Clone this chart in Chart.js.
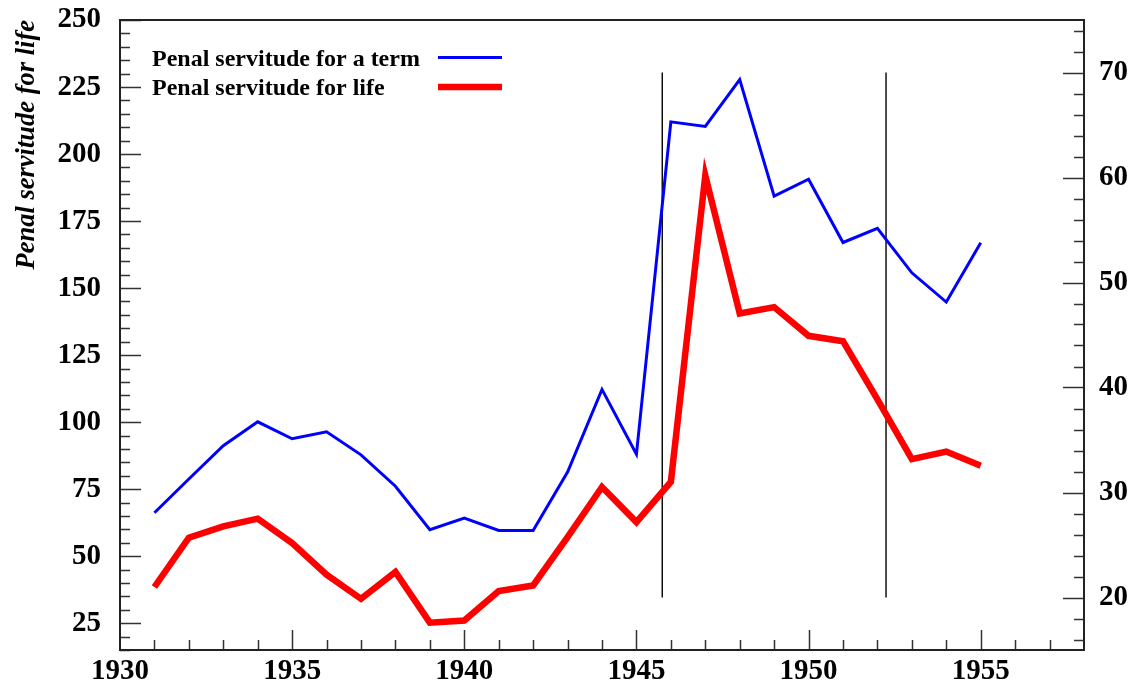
<!DOCTYPE html>
<html>
<head>
<meta charset="utf-8">
<script src="https://cdn.jsdelivr.net/npm/chart.js@4.4.0/dist/chart.umd.min.js"></script>
<style>
  body { margin: 0; background: #fff; }
</style>
</head>
<body>
<canvas id="penalChart" width="1138" height="694"></canvas>
<script>
// data
const years = [1931, 1932, 1933, 1934, 1935, 1936, 1937, 1938, 1939, 1940, 1941, 1942, 1943,
  1944, 1945, 1946, 1947, 1948, 1949, 1950, 1951, 1952, 1953, 1954, 1955];
const termValues = [66.2, 78.8, 91.2, 100.1, 93.8, 96.4, 87.8, 76.1, 59.9, 64.2, 59.6, 59.6, 81.4,
  112.2, 88.0, 212.0, 210.3, 227.8, 184.3, 190.6, 167.0, 172.3, 155.7, 144.8, 166.9];
const lifeValues = [38.5, 56.9, 61.1, 64.0, 54.9, 43.1, 34.1, 44.1, 25.2, 26.0, 37.0, 39.1, 57.1,
  75.8, 62.7, 77.7, 192.0, 140.5, 142.9, 132.2, 130.2, 108.5, 86.2, 89.0, 83.7];
const markerYears = [1945.75, 1952.25];
const markerRange = [20, 70];
const xTicks = [1930, 1935, 1940, 1945, 1950, 1955];
const leftTicks = [25, 50, 75, 100, 125, 150, 175, 200, 225, 250];
const rightTicks = [20, 30, 40, 50, 60, 70];
const seriesNames = ["Penal servitude for a term", "Penal servitude for life"];

const serif = "'Liberation Serif', 'Times New Roman', serif";
const tickFont = { family: serif, size: 29, weight: "bold" };

function points(xs, ys) {
  return xs.map((x, i) => ({ x: x, y: ys[i] }));
}

const datasets = [
  {
    label: seriesNames[0],
    data: points(years, termValues),
    borderColor: "#0000ff",
    borderWidth: 3,
    yAxisID: "y"
  },
  {
    label: seriesNames[1],
    data: points(years, lifeValues),
    borderColor: "#ff0000",
    borderWidth: 6.5,
    yAxisID: "y"
  }
];

markerYears.forEach(function (yr) {
  datasets.push({
    label: "marker",
    data: [{ x: yr, y: markerRange[0] }, { x: yr, y: markerRange[1] }],
    borderColor: "#000",
    borderWidth: 1.4,
    yAxisID: "y2"
  });
});

// frame, inside ticks and the legend box in the top left
const framePlugin = {
  id: "frame",
  afterDraw(chart) {
    const ctx = chart.ctx;
    const a = chart.chartArea;
    const sx = chart.scales.x, sy = chart.scales.y, sy2 = chart.scales.y2;
    ctx.save();
    ctx.strokeStyle = "#333";
    ctx.lineWidth = 1.5;
    ctx.beginPath();
    for (let v = 15; v <= 250; v += 5) {
      const p = Math.round(sy.getPixelForValue(v)) + 0.5;
      const len = v % 25 === 0 ? 21 : 10;
      ctx.moveTo(a.left, p); ctx.lineTo(a.left + len, p);
    }
    for (let v = 16; v <= 74; v += 2) {
      const p = Math.round(sy2.getPixelForValue(v)) + 0.5;
      const len = v % 10 === 0 ? 21 : 10;
      ctx.moveTo(a.right, p); ctx.lineTo(a.right - len, p);
    }
    for (let v = 1931; v <= 1957; v++) {
      const p = Math.round(sx.getPixelForValue(v)) + 0.5;
      const len = v % 5 === 0 ? 20 : 10;
      ctx.moveTo(p, a.bottom); ctx.lineTo(p, a.bottom - len);
    }
    ctx.stroke();

    ctx.strokeStyle = "#222";
    ctx.lineWidth = 2;
    ctx.strokeRect(a.left, a.top, a.right - a.left, a.bottom - a.top);

    // legend: text then line sample
    ctx.font = "bold 24px " + serif;
    ctx.fillStyle = "#000";
    ctx.textBaseline = "alphabetic";
    ctx.textAlign = "left";
    const rows = [65.5, 95];
    for (let i = 0; i < 2; i++) {
      ctx.fillText(seriesNames[i], 152, rows[i]);
      ctx.strokeStyle = datasets[i].borderColor;
      ctx.lineWidth = datasets[i].borderWidth;
      ctx.beginPath();
      ctx.moveTo(438, rows[i] - 8);
      ctx.lineTo(502, rows[i] - 8);
      ctx.stroke();
    }
    ctx.restore();
  }
};

function noPad(s) {
  s.paddingTop = 0;
  s.paddingBottom = 0;
  s.paddingLeft = 0;
  s.paddingRight = 0;
}

new Chart(
  document.getElementById("penalChart"),
  {
    type: "line",
    data: { datasets: datasets },
    options: {
      responsive: false,
      animation: false,
      devicePixelRatio: 1,
      layout: { padding: { top: 20 } },
      elements: {
        point: { radius: 0 },
        line: { tension: 0, borderJoinStyle: "miter", fill: false }
      },
      plugins: {
        legend: { display: false },
        tooltip: { enabled: false }
      },
      scales: {
        x: {
          type: "linear",
          min: 1930,
          max: 1958,
          grid: { display: false, drawTicks: false },
          border: { display: false },
          ticks: {
            font: tickFont, color: "#000", padding: 4, autoSkip: false, maxRotation: 0,
            callback: v => String(v)
          },
          afterBuildTicks: s => { s.ticks = xTicks.map(v => ({ value: v })); },
          afterFit: s => { s.height = 44; noPad(s); }
        },
        y: {
          position: "left",
          min: 15,
          max: 250,
          grid: { display: false, drawTicks: false },
          border: { display: false },
          ticks: { font: tickFont, color: "#000", padding: 19 },
          afterBuildTicks: s => { s.ticks = leftTicks.map(v => ({ value: v })); },
          afterFit: s => { s.width = 120; noPad(s); },
          title: {
            display: true,
            text: "Penal servitude for life",
            align: "end",
            color: "#000",
            font: { family: serif, size: 26.5, weight: "bold", style: "italic" },
            padding: { top: 11, bottom: 0 }
          }
        },
        y2: {
          position: "right",
          min: 15,
          max: 75,
          grid: { display: false, drawTicks: false },
          border: { display: false },
          ticks: { font: tickFont, color: "#000", padding: 15 },
          afterBuildTicks: s => { s.ticks = rightTicks.map(v => ({ value: v })); },
          afterFit: s => { s.width = 54; noPad(s); }
        }
      }
    },
    plugins: [framePlugin]
  }
);
</script>
</body>
</html>
